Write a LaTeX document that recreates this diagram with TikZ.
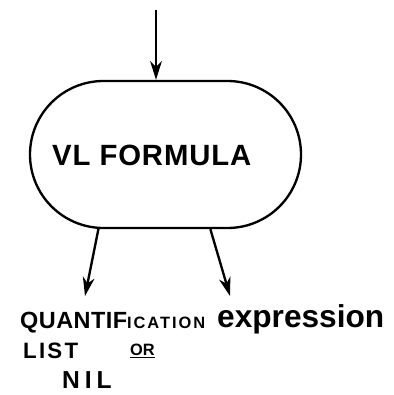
\documentclass[tikz,border=0pt]{standalone}
\usepackage{fontspec}
\setsansfont{Liberation Sans}
\usetikzlibrary{shapes.misc, arrows.meta, positioning}

\begin{document}
\begin{tikzpicture}[x=0.3mm, y=-0.3mm]
        % Flow chart (hand drawn look)
        \tikzset{
          flow/.style={line width=2pt, -{Stealth[length=16pt, width=10pt, inset=5pt]}},
          block/.style={rounded rectangle, draw, line width=2pt,
                        minimum width=81.3mm, minimum height=44.1mm, inner sep=0},
          hand/.style={inner sep=0, anchor=base west}
        }
        \newcommand{\handfont}[2]{\sffamily\bfseries\addfontfeature{LetterSpace=#2}\fontsize{#1}{#1}\selectfont}
        \useasboundingbox (0, 0) rectangle (393, 395);

        % Block
        \node[block] (formula) at (165.5, 154.5) {};
        \node[hand, font=\handfont{25}{3}] (name) at (52, 165) {VL FORMULA};

        % Outputs
        \node[hand, font=\handfont{20}{2}] (quant) at (20, 328)
          {QUANTIF{\handfont{14}{12}ICATION}};
        \node[hand, font=\handfont{27}{0}] (expr) at (217, 327) {expression};
        \node[hand, font=\handfont{19}{10}] (list) at (23, 358) {LIST};
        \node[hand, font=\handfont{14}{0}] (or) at (130, 355) {\underline{OR}};
        \node[hand, font=\handfont{21}{20}] (nil) at (62, 388) {NIL};

        % Connectors
        \coordinate (in) at (156, 10);
        \coordinate (qtip) at (85, 296);
        \coordinate (etip) at (230, 296);
        \draw[flow] (in) -- (in |- formula.north);
        \draw[flow] (formula.-132) -- (qtip);
        \draw[flow] (formula.-59) -- (etip);
      \end{tikzpicture}
\end{document}
